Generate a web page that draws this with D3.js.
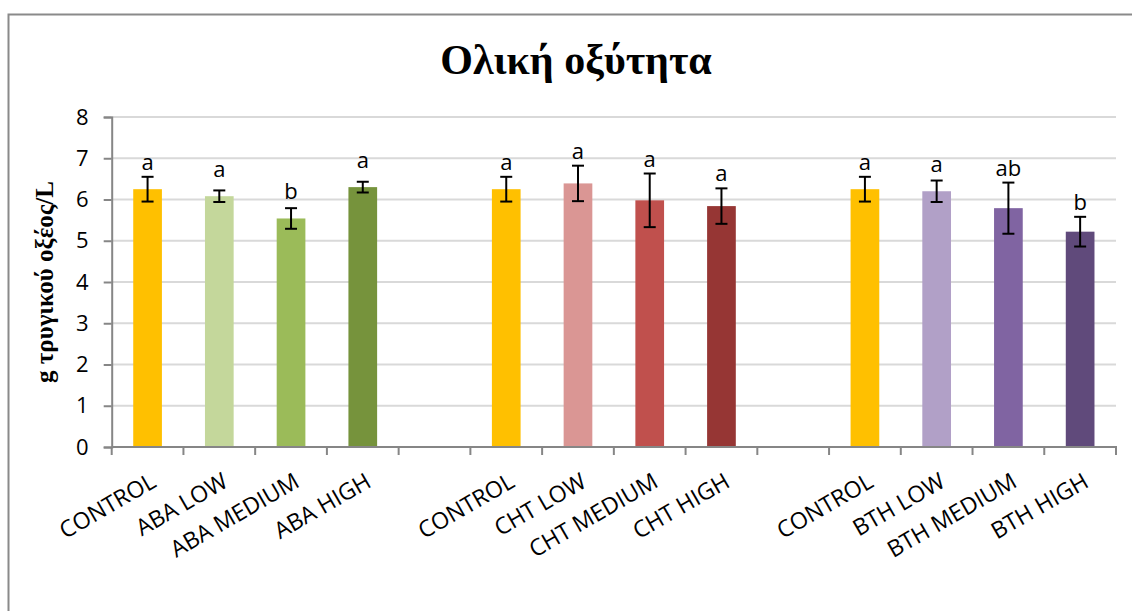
<!DOCTYPE html>
<html>
<head>
<meta charset="utf-8">
<script src="https://cdn.jsdelivr.net/npm/d3@7/dist/d3.min.js"></script>
<style>
  html, body { margin: 0; padding: 0; background: #fff; }
  svg { display: block; }
</style>
</head>
<body>
<svg id="chart" width="1132" height="611"></svg>
<script>
// Treatment labels, grouped by elicitor (ABA, chitosan, BTH)
const groupA = ["CONTROL", "ABA LOW", "ABA MEDIUM", "ABA HIGH"];
const groupB = ["CONTROL", "CHT LOW", "CHT MEDIUM", "CHT HIGH"];
const groupC = ["CONTROL", "BTH LOW", "BTH MEDIUM", "BTH HIGH"];

// Total acidity (g tartaric acid / L), mean and error per treatment
const valuesA = [6.25, 6.08, 5.54, 6.30];
const valuesB = [6.25, 6.39, 5.98, 5.84];
const valuesC = [6.25, 6.20, 5.79, 5.22];
const errorsA = [0.30, 0.14, 0.25, 0.13];
const errorsB = [0.30, 0.43, 0.65, 0.43];
const errorsC = [0.30, 0.26, 0.62, 0.36];

// Significance letters
const lettersA = ["a", "a", "b", "a"];
const lettersB = ["a", "a", "a", "a"];
const lettersC = ["a", "a", "ab", "b"];

// Bar colours
const colorsA = ["#FFC000", "#C4D79B", "#9BBB59", "#76933C"];
const colorsB = ["#FFC000", "#DA9694", "#C0504D", "#963634"];
const colorsC = ["#FFC000", "#B1A0C7", "#8064A2", "#604A7B"];

const yTicks = [0, 1, 2, 3, 4, 5, 6, 7, 8];

const titleText = "Ολική οξύτητα";
const yLabelText = "g τρυγικού οξέος/L";

// Build slots: 4 bars, empty slot, 4 bars, empty slot, 4 bars
const groups = [
  { labels: groupA, values: valuesA, errors: errorsA, letters: lettersA, colors: colorsA },
  { labels: groupB, values: valuesB, errors: errorsB, letters: lettersB, colors: colorsB },
  { labels: groupC, values: valuesC, errors: errorsC, letters: lettersC, colors: colorsC }
];
const slots = [];
const bars = [];
groups.forEach((g, gi) => {
  if (gi > 0) slots.push("gap" + gi);
  g.labels.forEach((lab, i) => {
    const key = "g" + gi + "_" + i;
    slots.push(key);
    bars.push({ key, label: lab, value: g.values[i], err: g.errors[i], letter: g.letters[i], color: g.colors[i] });
  });
});

const svg = d3.select("#chart");
const W = 1132, H = 611;
const plot = { left: 111.7, right: 1116, top: 117, bottom: 447 };

// Chart area frame
svg.append("rect")
  .attr("x", 8.5).attr("y", 14.5)
  .attr("width", W + 20).attr("height", H + 20)
  .attr("fill", "#fff")
  .attr("stroke", "#8a8a8a").attr("stroke-width", 2);

const x = d3.scaleBand()
  .domain(slots)
  .range([plot.left, plot.right])
  .paddingInner(0.6)
  .paddingOuter(0.3);

const y = d3.scaleLinear().domain([0, 8]).range([plot.bottom, plot.top]);

const labelFont = "'Open Sans', 'Noto Sans', sans-serif";

// Horizontal gridlines
svg.append("g").selectAll("line")
  .data(yTicks.filter(t => t > 0))
  .join("line")
  .attr("x1", plot.left).attr("x2", plot.right)
  .attr("y1", d => y(d)).attr("y2", d => y(d))
  .attr("stroke", "#D9D9D9").attr("stroke-width", 2);

// Y axis
const yAxis = svg.append("g")
  .attr("transform", `translate(${plot.left},0)`)
  .call(d3.axisLeft(y).tickValues(yTicks).tickSize(8).tickPadding(15).tickFormat(d3.format("d")));
yAxis.select(".domain").attr("stroke", "#868686").attr("stroke-width", 2);
yAxis.selectAll(".tick line").attr("stroke", "#868686").attr("stroke-width", 2);
yAxis.selectAll(".tick text")
  .attr("font-family", labelFont).attr("font-size", 22).attr("fill", "#000");

// Bars
svg.append("g").selectAll("rect")
  .data(bars)
  .join("rect")
  .attr("x", d => x(d.key))
  .attr("width", x.bandwidth())
  .attr("y", d => y(d.value))
  .attr("height", d => y(0) - y(d.value))
  .attr("fill", d => d.color);

// X axis line with tick marks between categories
const step = x.step();
const x0 = x(slots[0]) - x.paddingOuter() * step;
const boundaries = d3.range(slots.length + 1).map(i => x0 + i * step);
const xAxis = svg.append("g");
xAxis.append("line")
  .attr("x1", plot.left).attr("x2", plot.right + 1)
  .attr("y1", plot.bottom).attr("y2", plot.bottom)
  .attr("stroke", "#868686").attr("stroke-width", 2);
xAxis.selectAll("line.tk")
  .data(boundaries)
  .join("line")
  .attr("class", "tk")
  .attr("x1", d => d).attr("x2", d => d)
  .attr("y1", plot.bottom).attr("y2", plot.bottom + 8)
  .attr("stroke", "#868686").attr("stroke-width", 2);

// Rotated category labels
xAxis.selectAll("text")
  .data(bars)
  .join("text")
  .attr("transform", d => `translate(${x(d.key) + x.bandwidth() / 2 + 10},${plot.bottom + 39}) rotate(-30)`)
  .attr("text-anchor", "end")
  .attr("font-family", labelFont).attr("font-size", 23)
  .attr("fill", "#000")
  .text(d => d.label);

// Error bars
const eb = svg.append("g").attr("stroke", "#000").attr("stroke-width", 2);
const capHalf = 6;
bars.forEach(d => {
  const cx = x(d.key) + x.bandwidth() / 2;
  const yt = y(d.value + d.err), yb = y(d.value - d.err);
  eb.append("line").attr("x1", cx).attr("x2", cx).attr("y1", yt).attr("y2", yb);
  eb.append("line").attr("x1", cx - capHalf).attr("x2", cx + capHalf).attr("y1", yt).attr("y2", yt);
  eb.append("line").attr("x1", cx - capHalf).attr("x2", cx + capHalf).attr("y1", yb).attr("y2", yb);
});

// Significance letters above each bar
svg.append("g").selectAll("text")
  .data(bars)
  .join("text")
  .attr("x", d => x(d.key) + x.bandwidth() / 2)
  .attr("y", d => Math.min(y(d.value + d.err) - 7, y(d.value) - 19))
  .attr("text-anchor", "middle")
  .attr("font-family", labelFont).attr("font-size", 22)
  .attr("fill", "#000")
  .text(d => d.letter);

// Title
svg.append("text")
  .attr("x", 576).attr("y", 74)
  .attr("text-anchor", "middle")
  .attr("font-family", "'Liberation Serif', 'Times New Roman', serif")
  .attr("font-weight", "bold").attr("font-size", 42)
  .text(titleText);

// Y axis title
svg.append("text")
  .attr("transform", `translate(53,${(plot.top + plot.bottom) / 2}) rotate(-90)`)
  .attr("text-anchor", "middle")
  .attr("font-family", "'Liberation Serif', 'Times New Roman', serif")
  .attr("font-weight", "bold").attr("font-size", 25)
  .text(yLabelText);
</script>
</body>
</html>
